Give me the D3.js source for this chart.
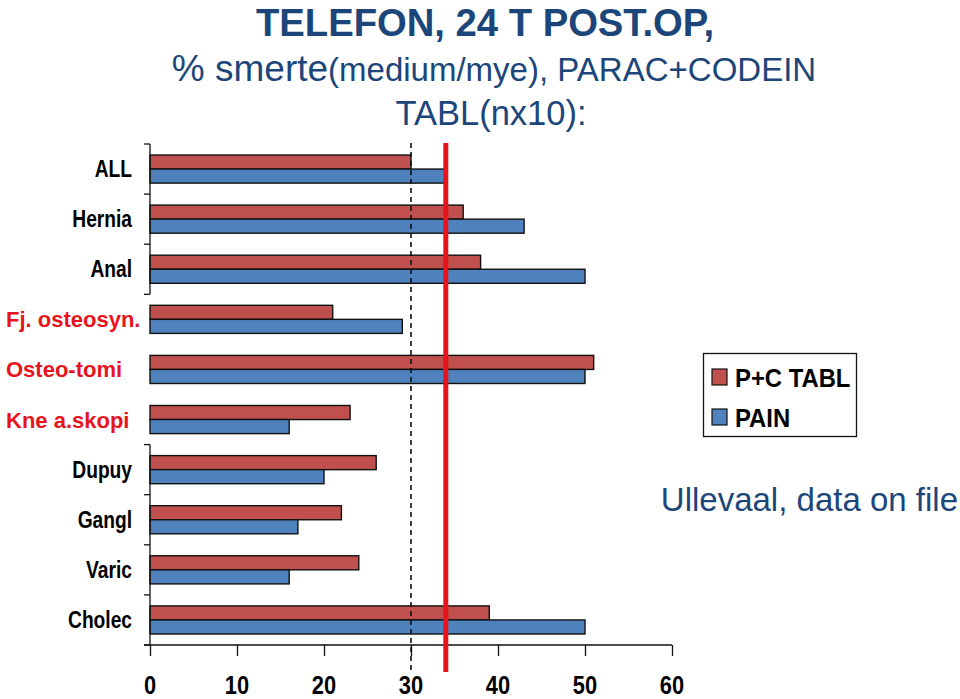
<!DOCTYPE html>
<html><head><meta charset="utf-8">
<script src="https://cdn.jsdelivr.net/npm/d3@7"></script>
<style>body{margin:0;background:#fff}svg{display:block}</style>
</head><body>
<svg id="c" width="960" height="699"></svg>
<script>
const categories = ["ALL","Hernia","Anal","Fj. osteosyn.","Osteo-tomi","Kne a.skopi","Dupuy","Gangl","Varic","Cholec"];
const redCats = ["Fj. osteosyn.","Osteo-tomi","Kne a.skopi"];
const pcTabl = [30,36,38,21,51,23,26,22,24,39];
const pain   = [34,43,50,29,50,16,20,17,16,50];
const seriesNames = ["P+C TABL","PAIN"];
const xTicks = [0,10,20,30,40,50,60];
const dashedRef = 30;
const redRef = 34;

const svg = d3.select("#c");
const navy = "#1c467a";
const sans = "'Liberation Sans',Arial,sans-serif";
const x = d3.scaleLinear().domain([0,60]).range([150,672]);
const y = d3.scaleBand().domain(categories).range([144,645]).paddingInner(0).paddingOuter(0);
const sub = d3.scaleBand().domain(seriesNames).range([11, y.bandwidth()-11]).padding(0);
const colors = {"P+C TABL":"#c0504d","PAIN":"#4f81bd"};

// text helper with horizontal condensing (narrow font emulation)
function txt(px, py, s, o){
  const g = svg.append("g").attr("transform",`translate(${px},${py}) scale(${o.sx||1},1)`);
  return g.append("text").attr("x",0).attr("y",0).attr("text-anchor",o.anchor||"start")
    .attr("font-family",o.family||sans).attr("font-weight",o.weight||"normal")
    .attr("font-size",o.size).attr("fill",o.fill||"#000").text(s);
}

// title
txt(485,36,"TELEFON, 24 T POST.OP,",{anchor:"middle",weight:"bold",size:39,sx:0.98,fill:navy});
const t2 = svg.append("text").attr("x",494).attr("y",81).attr("text-anchor","middle")
  .attr("font-family",sans).attr("fill",navy);
t2.append("tspan").attr("font-size",37).text("% smerte");
t2.append("tspan").attr("font-size",33).text("(medium/mye), PARAC+CODEIN");
txt(491,125,"TABL(nx10):",{anchor:"middle",size:34.5,fill:navy});

// bars
const rows = categories.map((c,i)=>({c, vals:[{s:"P+C TABL",v:pcTabl[i]},{s:"PAIN",v:pain[i]}]}));
const g = svg.append("g");
rows.forEach(r=>{
  r.vals.forEach(d=>{
    g.append("rect").attr("x",x(0)).attr("y",y(r.c)+sub(d.s))
      .attr("width",x(d.v)-x(0)).attr("height",sub.bandwidth())
      .attr("fill",colors[d.s]).attr("stroke","#111").attr("stroke-width",1.4);
  });
});

// y axis (two segments, gap in middle)
const ax = svg.append("g").attr("stroke","#111").attr("stroke-width",1.3);
ax.append("line").attr("x1",x(0)).attr("x2",x(0)).attr("y1",y("ALL")).attr("y2",y("Fj. osteosyn."));
ax.append("line").attr("x1",x(0)).attr("x2",x(0)).attr("y1",y("Dupuy")).attr("y2",645);
["ALL","Hernia","Anal","Fj. osteosyn.","Dupuy","Gangl","Varic","Cholec"].forEach(c=>{
  ax.append("line").attr("x1",x(0)-6).attr("x2",x(0)).attr("y1",y(c)).attr("y2",y(c));
});
ax.append("line").attr("x1",x(0)-6).attr("x2",x(0)).attr("y1",645).attr("y2",645);

// y labels
categories.forEach(c=>{
  const red = redCats.includes(c);
  const cy = y(c)+y.bandwidth()/2+8;
  if(red) txt(6,cy,c,{weight:"bold",size:22,fill:"#e8141c"});
  else txt(132,cy,c,{anchor:"end",weight:"bold",size:24,sx:0.8});
});

// x axis
const xa = svg.append("g").attr("transform","translate(0,645)")
  .call(d3.axisBottom(x).tickValues(xTicks).tickSize(11).tickFormat(""));
xa.select(".domain").attr("stroke","#111").attr("stroke-width",1.3).attr("d",`M${x(0)-6},0H${x(60)}`);
xa.selectAll(".tick line").attr("stroke","#111").attr("stroke-width",1.3);
xTicks.forEach(t=>{
  txt(x(t),694,String(t),{anchor:"middle",weight:"bold",size:26,sx:0.84});
});

// reference lines
svg.append("line").attr("x1",x(dashedRef)).attr("x2",x(dashedRef)).attr("y1",143).attr("y2",670)
  .attr("stroke","#111").attr("stroke-width",1.6).attr("stroke-dasharray","5,4");
svg.append("line").attr("x1",x(redRef)).attr("x2",x(redRef)).attr("y1",143).attr("y2",672)
  .attr("stroke","#e8141c").attr("stroke-width",5);

// legend
svg.append("rect").attr("x",703.5).attr("y",353.5).attr("width",153).attr("height",83)
  .attr("fill","#fff").attr("stroke","#111").attr("stroke-width",1.3);
seriesNames.forEach((s,i)=>{
  const yy = 369 + i*40;
  svg.append("rect").attr("x",712).attr("y",yy).attr("width",15).attr("height",16)
    .attr("fill",colors[s]).attr("stroke","#111").attr("stroke-width",1.2);
  txt(735,yy+18,s,{weight:"bold",size:26.5,sx:0.9});
});

txt(958,511,"Ullevaal, data on file",{anchor:"end",size:33,fill:navy});
</script>
</body></html>
